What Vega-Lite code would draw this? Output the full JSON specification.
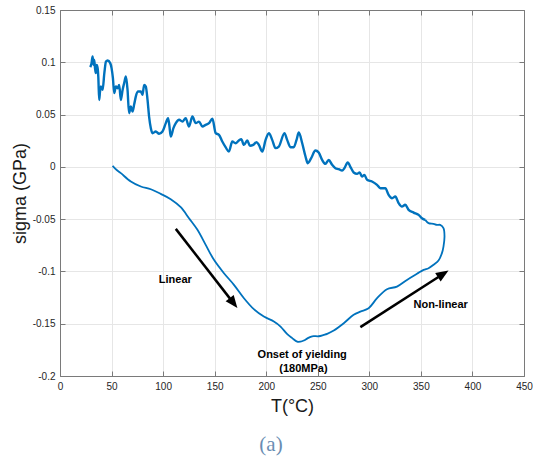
{
  "$schema": "https://vega.github.io/schema/vega-lite/v6.json",
  "width": 464,
  "height": 366,
  "autosize": {"type": "none"},
  "padding": {"left": 60, "top": 10, "right": 9, "bottom": 81},
  "background": "white",
  "config": {
    "view": {"stroke": "#7a7a7a", "strokeWidth": 1},
    "axis": {
      "domainColor": "#7a7a7a",
      "tickColor": "#7a7a7a",
      "gridColor": "#e6e6e6",
      "gridOpacity": 1,
      "labelFont": "Liberation Sans",
      "labelFontSize": 10,
      "labelColor": "#262626",
      "labelFlush": false,
      "labelOverlap": false,
      "titleFont": "Liberation Sans",
      "titleFontWeight": "normal",
      "titleColor": "#1a1a1a",
      "titleFontSize": 18,
      "tickSize": -5,
      "labelPadding": 10
    }
  },
  "title": {
    "text": "(a)",
    "orient": "bottom",
    "font": "Liberation Serif",
    "fontSize": 21,
    "fontWeight": "normal",
    "color": "#6a8db3",
    "anchor": "middle",
    "frame": "group",
    "dx": -21,
    "offset": 19
  },
  "datasets": {
    "upper": [
      {"T": 29.3, "s": 0.0953}, {"T": 30.5, "s": 0.0985}, {"T": 31.6, "s": 0.1055}, {"T": 32.6, "s": 0.0975},
      {"T": 33.2, "s": 0.1023}, {"T": 34.0, "s": 0.094}, {"T": 34.8, "s": 0.0896}, {"T": 35.6, "s": 0.0975},
      {"T": 36.5, "s": 0.0944}, {"T": 37.2, "s": 0.085}, {"T": 38.0, "s": 0.064}, {"T": 38.8, "s": 0.072},
      {"T": 39.7, "s": 0.0768}, {"T": 41.3, "s": 0.0736}, {"T": 43.0, "s": 0.0896}, {"T": 44.6, "s": 0.1007},
      {"T": 46.2, "s": 0.1017}, {"T": 48.7, "s": 0.0992}, {"T": 50.0, "s": 0.0944}, {"T": 51.3, "s": 0.085},
      {"T": 52.6, "s": 0.0705}, {"T": 54.2, "s": 0.0768}, {"T": 55.8, "s": 0.0752}, {"T": 57.4, "s": 0.0784},
      {"T": 59.0, "s": 0.064}, {"T": 60.7, "s": 0.0736}, {"T": 62.2, "s": 0.08}, {"T": 63.9, "s": 0.0864},
      {"T": 65.5, "s": 0.0736}, {"T": 67.0, "s": 0.0513}, {"T": 68.7, "s": 0.0577}, {"T": 70.3, "s": 0.0529},
      {"T": 72.0, "s": 0.06}, {"T": 73.5, "s": 0.0672}, {"T": 75.8, "s": 0.072}, {"T": 78.4, "s": 0.072},
      {"T": 80.0, "s": 0.0689}, {"T": 81.6, "s": 0.0784}, {"T": 83.2, "s": 0.0768}, {"T": 84.9, "s": 0.064},
      {"T": 86.4, "s": 0.0481}, {"T": 88.1, "s": 0.037}, {"T": 89.7, "s": 0.0322}, {"T": 92.9, "s": 0.0338},
      {"T": 96.1, "s": 0.0316}, {"T": 99.4, "s": 0.0338}, {"T": 102.6, "s": 0.0418}, {"T": 104.8, "s": 0.0466},
      {"T": 106.0, "s": 0.04}, {"T": 107.4, "s": 0.029}, {"T": 110.0, "s": 0.037}, {"T": 112.3, "s": 0.0418},
      {"T": 115.5, "s": 0.045}, {"T": 118.7, "s": 0.0433}, {"T": 121.9, "s": 0.0466}, {"T": 125.1, "s": 0.0385},
      {"T": 128.4, "s": 0.0481}, {"T": 131.6, "s": 0.0418}, {"T": 134.8, "s": 0.0433}, {"T": 138.1, "s": 0.0385},
      {"T": 141.3, "s": 0.0402}, {"T": 144.5, "s": 0.0418}, {"T": 147.8, "s": 0.046}, {"T": 151.0, "s": 0.0322},
      {"T": 154.2, "s": 0.0306}, {"T": 157.4, "s": 0.0242}, {"T": 160.6, "s": 0.0188}, {"T": 163.8, "s": 0.0146},
      {"T": 167.1, "s": 0.0242}, {"T": 170.3, "s": 0.0226}, {"T": 173.5, "s": 0.0252}, {"T": 175.8, "s": 0.0265},
      {"T": 178.4, "s": 0.021}, {"T": 181.6, "s": 0.0252}, {"T": 184.2, "s": 0.0201}, {"T": 187.4, "s": 0.021},
      {"T": 190.6, "s": 0.0236}, {"T": 192.9, "s": 0.021}, {"T": 196.2, "s": 0.0146}, {"T": 199.4, "s": 0.0258},
      {"T": 202.6, "s": 0.0322}, {"T": 205.8, "s": 0.0258}, {"T": 209.0, "s": 0.0179}, {"T": 212.2, "s": 0.0194},
      {"T": 217.7, "s": 0.0322}, {"T": 220.3, "s": 0.0258}, {"T": 223.5, "s": 0.0188}, {"T": 226.7, "s": 0.0188},
      {"T": 229.4, "s": 0.0258}, {"T": 231.6, "s": 0.0328}, {"T": 234.9, "s": 0.0226}, {"T": 238.1, "s": 0.0099},
      {"T": 240.3, "s": 0.0035}, {"T": 243.6, "s": 0.0083}, {"T": 247.7, "s": 0.0156}, {"T": 250.9, "s": 0.0137},
      {"T": 254.2, "s": 0.0067}, {"T": 257.4, "s": 0.0029}, {"T": 260.6, "s": 0.0067}, {"T": 263.9, "s": 0.0019},
      {"T": 267.1, "s": -0.0013}, {"T": 270.3, "s": -0.0022}, {"T": 273.6, "s": -0.0035}, {"T": 275.8, "s": -0.0013},
      {"T": 279.0, "s": 0.0041}, {"T": 282.3, "s": -0.0013}, {"T": 284.8, "s": -0.0054}, {"T": 288.1, "s": -0.0067},
      {"T": 290.6, "s": -0.0054}, {"T": 292.9, "s": -0.0093}, {"T": 295.2, "s": -0.0077}, {"T": 297.8, "s": -0.0124},
      {"T": 302.6, "s": -0.014}, {"T": 307.5, "s": -0.0172}, {"T": 310.7, "s": -0.0204}, {"T": 315.5, "s": -0.0204},
      {"T": 318.7, "s": -0.0268}, {"T": 322.0, "s": -0.03}, {"T": 325.2, "s": -0.0284}, {"T": 328.4, "s": -0.0347},
      {"T": 331.6, "s": -0.038}, {"T": 334.8, "s": -0.0363}, {"T": 338.1, "s": -0.0411}, {"T": 342.9, "s": -0.0437},
      {"T": 347.8, "s": -0.0459}, {"T": 351.0, "s": -0.0491}, {"T": 354.2, "s": -0.0507}
    ],
    "lower": [
      {"i": 1, "T": 51.0, "s": 0.001}, {"i": 2, "T": 55.0, "s": -0.003}, {"i": 3, "T": 59.0, "s": -0.006},
      {"i": 4, "T": 68.7, "s": -0.014}, {"i": 5, "T": 78.4, "s": -0.0188}, {"i": 6, "T": 88.1, "s": -0.0214},
      {"i": 7, "T": 97.7, "s": -0.0258}, {"i": 8, "T": 107.4, "s": -0.0309}, {"i": 9, "T": 117.1, "s": -0.0386},
      {"i": 10, "T": 125.1, "s": -0.0491}, {"i": 11, "T": 133.3, "s": -0.0602}, {"i": 12, "T": 141.3, "s": -0.0746},
      {"i": 13, "T": 149.3, "s": -0.0889}, {"i": 14, "T": 159.0, "s": -0.1017}, {"i": 15, "T": 168.7, "s": -0.1128},
      {"i": 16, "T": 178.4, "s": -0.1256}, {"i": 17, "T": 188.0, "s": -0.1361}, {"i": 18, "T": 197.7, "s": -0.1432},
      {"i": 19, "T": 207.4, "s": -0.1479}, {"i": 20, "T": 213.9, "s": -0.1527}, {"i": 21, "T": 220.4, "s": -0.16},
      {"i": 22, "T": 225.2, "s": -0.1638}, {"i": 23, "T": 230.0, "s": -0.1671}, {"i": 24, "T": 233.2, "s": -0.1671},
      {"i": 25, "T": 236.4, "s": -0.1661}, {"i": 26, "T": 240.0, "s": -0.164}, {"i": 27, "T": 244.6, "s": -0.162},
      {"i": 28, "T": 250.9, "s": -0.162}, {"i": 29, "T": 255.8, "s": -0.1607}, {"i": 30, "T": 259.1, "s": -0.1597},
      {"i": 31, "T": 265.5, "s": -0.1565}, {"i": 32, "T": 275.2, "s": -0.1495}, {"i": 33, "T": 284.8, "s": -0.1415},
      {"i": 34, "T": 291.3, "s": -0.1384}, {"i": 35, "T": 299.3, "s": -0.1352}, {"i": 36, "T": 307.5, "s": -0.1256},
      {"i": 37, "T": 317.1, "s": -0.117}, {"i": 38, "T": 326.8, "s": -0.1145}, {"i": 39, "T": 336.5, "s": -0.1081},
      {"i": 40, "T": 346.2, "s": -0.1023}, {"i": 41, "T": 352.6, "s": -0.0985}, {"i": 42, "T": 357.4, "s": -0.0969},
      {"i": 43, "T": 362.3, "s": -0.0937}, {"i": 44, "T": 367.1, "s": -0.0896}, {"i": 45, "T": 370.4, "s": -0.0825},
      {"i": 46, "T": 371.9, "s": -0.0762}, {"i": 47, "T": 372.9, "s": -0.0667}, {"i": 48, "T": 371.9, "s": -0.0586},
      {"i": 49, "T": 368.7, "s": -0.0555}, {"i": 50, "T": 365.5, "s": -0.0555}, {"i": 51, "T": 362.3, "s": -0.0545},
      {"i": 52, "T": 357.4, "s": -0.0538}, {"i": 53, "T": 354.2, "s": -0.0507}
    ],
    "arrows": [
      {"name": "linear", "T0": 112.3, "s0": -0.0593, "T1": 164.9, "s1": -0.126},
      {"name": "nonlinear", "T0": 291.3, "s0": -0.1533, "T1": 367.0, "s1": -0.1053}
    ],
    "labels": [
      {"T": 111.8, "s": -0.108, "label": "Linear"},
      {"T": 369.2, "s": -0.132, "label": "Non-linear"},
      {"T": 234.9, "s": -0.1798, "label": "Onset of yielding"},
      {"T": 236.1, "s": -0.1937, "label": "(180MPa)"}
    ]
  },
  "layer": [
    {
      "data": {"name": "upper"},
      "mark": {"type": "line", "color": "#0072BD", "strokeWidth": 2.4, "interpolate": "monotone"},
      "encoding": {
        "x": {
          "field": "T", "type": "quantitative",
          "scale": {"domain": [0, 450], "nice": false},
          "axis": {"values": [0, 50, 100, 150, 200, 250, 300, 350, 400, 450], "grid": true, "title": "T(°C)", "titlePadding": 6}
        },
        "y": {
          "field": "s", "type": "quantitative",
          "scale": {"domain": [-0.2, 0.15], "nice": false},
          "axis": {"values": [-0.2, -0.15, -0.1, -0.05, 0, 0.05, 0.1, 0.15], "grid": true, "labelExpr": "'' + datum.value", "title": "sigma (GPa)", "titlePadding": 3}
        }
      }
    },
    {
      "data": {"name": "lower"},
      "mark": {"type": "line", "color": "#0072BD", "strokeWidth": 1.8, "interpolate": "catmull-rom"},
      "encoding": {
        "x": {"field": "T", "type": "quantitative", "axis": {"orient": "top", "values": [0, 50, 100, 150, 200, 250, 300, 350, 400, 450], "labels": false, "title": null, "grid": false}},
        "y": {"field": "s", "type": "quantitative", "axis": {"orient": "right", "values": [-0.2, -0.15, -0.1, -0.05, 0, 0.05, 0.1, 0.15], "labels": false, "title": null, "grid": false}},
        "order": {"field": "i"}
      }
    },
    {
      "data": {"name": "arrows"},
      "mark": {"type": "rule", "color": "black", "strokeWidth": 2.5},
      "encoding": {
        "x": {"field": "T0", "type": "quantitative", "axis": null},
        "y": {"field": "s0", "type": "quantitative", "axis": null},
        "x2": {"field": "T1"},
        "y2": {"field": "s1"}
      }
    },
    {
      "data": {"name": "arrows"},
      "transform": [{"filter": "datum.name === 'linear'"}],
      "mark": {"type": "point", "shape": "M0,-2L-0.85,0.1L0.85,0.1Z", "filled": true, "color": "black", "opacity": 1, "size": 144, "angle": 142.2, "strokeWidth": 0},
      "encoding": {
        "x": {"field": "T1", "type": "quantitative", "axis": null},
        "y": {"field": "s1", "type": "quantitative", "axis": null}
      }
    },
    {
      "data": {"name": "arrows"},
      "transform": [{"filter": "datum.name === 'nonlinear'"}],
      "mark": {"type": "point", "shape": "M0,-2L-0.85,0.1L0.85,0.1Z", "filled": true, "color": "black", "opacity": 1, "size": 144, "angle": 57.3, "strokeWidth": 0},
      "encoding": {
        "x": {"field": "T1", "type": "quantitative", "axis": null},
        "y": {"field": "s1", "type": "quantitative", "axis": null}
      }
    },
    {
      "data": {"name": "labels"},
      "mark": {"type": "text", "font": "Liberation Sans", "fontSize": 11, "fontWeight": "bold", "color": "black", "align": "center", "baseline": "middle"},
      "encoding": {
        "x": {"field": "T", "type": "quantitative", "axis": null},
        "y": {"field": "s", "type": "quantitative", "axis": null},
        "text": {"field": "label"}
      }
    }
  ],
  "resolve": {"axis": {"x": "independent", "y": "independent"}}
}
